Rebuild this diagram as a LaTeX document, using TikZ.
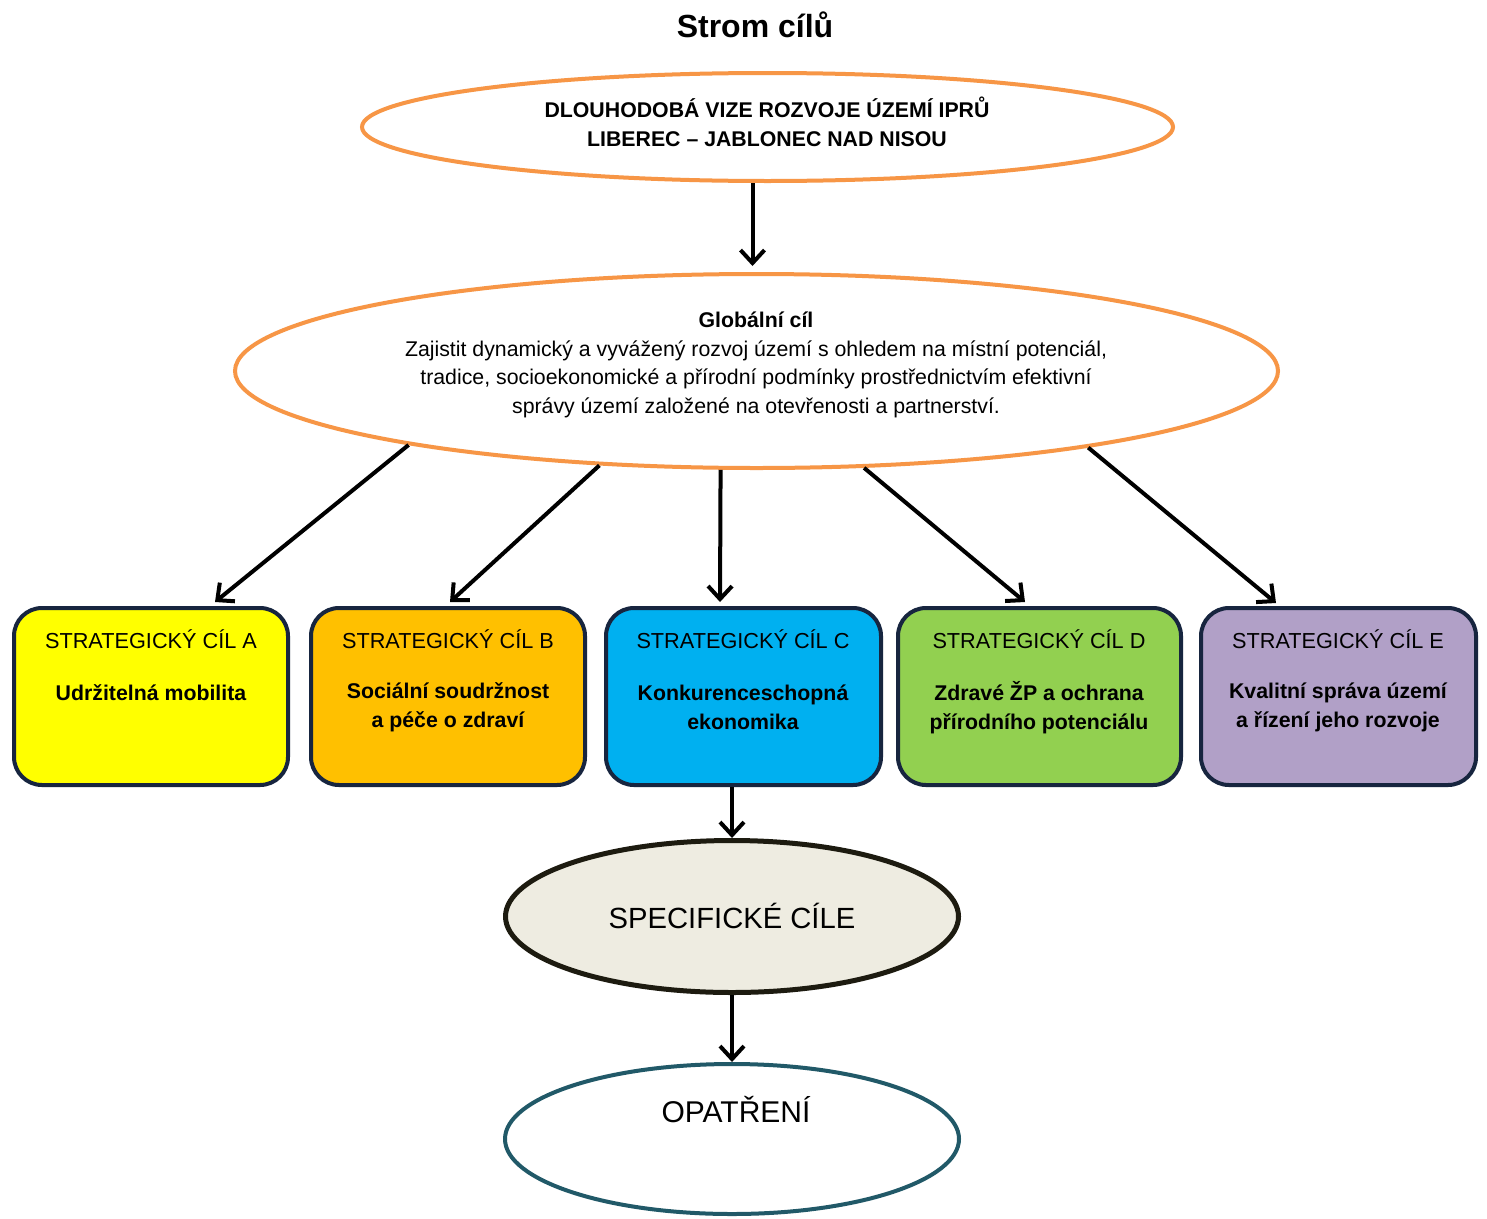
\documentclass[tikz,border=0pt]{standalone}
\usepackage{fontspec}
\setmainfont{Liberation Sans}
\usetikzlibrary{arrows.meta,shapes.geometric,calc}
\definecolor{orng}{HTML}{F79646}
\definecolor{navyb}{HTML}{17253F}
\definecolor{yelA}{HTML}{FFFF00}
\definecolor{orB}{HTML}{FFC000}
\definecolor{blC}{HTML}{00B0F0}
\definecolor{grD}{HTML}{92D050}
\definecolor{viE}{HTML}{B1A0C7}
\definecolor{specfill}{HTML}{EEECE1}
\definecolor{specdraw}{HTML}{1D1B10}
\definecolor{teal}{HTML}{215968}
\begin{document}
\begin{tikzpicture}[x=1pt,y=-1pt,
  ell/.style={ellipse, inner sep=0pt},
  goalbox/.style={rectangle, rounded corners=28pt, draw=navyb, line width=4pt, minimum height=177pt, inner sep=0pt},
  arr/.style={-{Straight Barb[length=13pt,width=24pt]}, line width=4pt},
  txt/.style={inner sep=0pt, align=center},
  hdr/.style={txt, font=\fontsize{21.7}{29}\selectfont},
  bld/.style={txt, font=\fontsize{21.3}{29}\selectfont\bfseries}]
\useasboundingbox (0,0) rectangle (1487,1218);
\fill[white] (0,0) rectangle (1487,1218);

\node[txt, font=\fontsize{32}{36}\selectfont\bfseries] (title) at (755,25) {Strom cílů};

\node[ell, draw=orng, line width=4pt, minimum width=811pt, minimum height=108pt] (vision) at (767.5,127) {};
\node[txt, font=\fontsize{21.3}{29}\selectfont\bfseries] (visiontxt) at (767,121.5) {DLOUHODOBÁ VIZE ROZVOJE ÚZEMÍ IPRŮ\\LIBEREC – JABLONEC NAD NISOU};

\node[ell, draw=orng, line width=4pt, minimum width=1043pt, minimum height=194pt] (glob) at (756.5,371) {};
\node[txt, font=\fontsize{21.3}{28.5}\selectfont] (globtxt) at (756,365) {\textbf{Globální cíl}\\Zajistit dynamický a vyvážený rozvoj území s ohledem na místní potenciál,\\tradice, socioekonomické a přírodní podmínky prostřednictvím efektivní\\správy území založené na otevřenosti a partnerství.};

\node[goalbox, fill=yelA, minimum width=274pt] (boxA) at (151,696.5) {};
\node[goalbox, fill=orB, minimum width=274pt] (boxB) at (448,696.5) {};
\node[goalbox, fill=blC, minimum width=275pt] (boxC) at (743.5,696.5) {};
\node[goalbox, fill=grD, minimum width=283pt] (boxD) at (1039.5,696.5) {};
\node[goalbox, fill=viE, minimum width=275pt] (boxE) at (1338.5,696.5) {};

\node[hdr] (hA) at (151,639) {STRATEGICKÝ CÍL A};
\node[hdr] (hB) at (448,639) {STRATEGICKÝ CÍL B};
\node[hdr] (hC) at (743,639) {STRATEGICKÝ CÍL C};
\node[hdr] (hD) at (1039,639) {STRATEGICKÝ CÍL D};
\node[hdr] (hE) at (1338,639) {STRATEGICKÝ CÍL E};

\node[bld] (tA) at (151,693) {Udržitelná mobilita};
\node[bld] (tB) at (448,707.5) {Sociální soudržnost\\a péče o zdraví};
\node[bld] (tC) at (743,707.5) {Konkurenceschopná\\ekonomika};
\node[bld] (tD) at (1039,707.5) {Zdravé ŽP a ochrana\\přírodního potenciálu};
\node[bld] (tE) at (1338,707.5) {Kvalitní správa území\\a řízení jeho rozvoje};

\node[ell, draw=specdraw, fill=specfill, line width=5pt, minimum width=453pt, minimum height=152pt] (spec) at (732,916.5) {};
\node[txt, font=\fontsize{29.2}{33}\selectfont] (spectxt) at (732,916) {SPECIFICKÉ CÍLE};

\node[ell, draw=teal, line width=4pt, minimum width=454pt, minimum height=150pt] (opat) at (732,1139) {};
\node[txt, font=\fontsize{30}{33}\selectfont] (opattxt) at (736,1110) {OPATŘENÍ};

\draw[arr, shorten >=6pt] ([xshift=-4pt]vision.south -| glob.north) -- ([xshift=-4pt]glob.north);
\draw[arr] (glob.192) -- ([xshift=64pt,yshift=4pt]boxA.north);
\draw[arr] (glob.211.6) -- ([xshift=2pt,yshift=4pt]boxB.north);
\draw[arr] (glob.250) -- ([xshift=-23.5pt,yshift=4pt]boxC.north);
\draw[arr] (glob.318) -- ([xshift=-14.5pt,yshift=4pt]boxD.north);
\draw[arr] (glob.347.4) -- ([xshift=-62.5pt,yshift=3pt]boxE.north);
\draw[arr] (boxC.south -| spec.north) -- (spec.north);
\draw[arr] (spec.south) -- (opat.north);
\end{tikzpicture}
\end{document}
